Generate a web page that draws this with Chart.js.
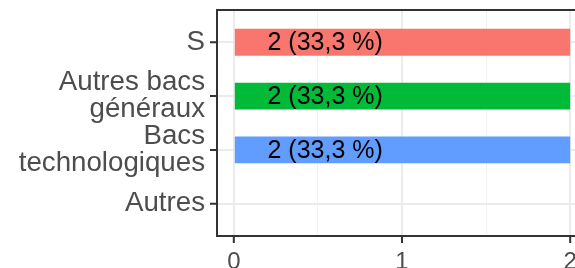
<!DOCTYPE html>
<html>
<head>
<meta charset="utf-8">
<script src="https://cdn.jsdelivr.net/npm/chart.js@4"></script>
<style>
  html, body { margin: 0; padding: 0; background: #fff; overflow: hidden; }
  #wrap { width: 600px; height: 268px; }
</style>
</head>
<body>
<div id="wrap"><canvas id="bacChart"></canvas></div>
<script>
// data
const categories = [['S'], ['Autres bacs', 'généraux'], ['Bacs', 'technologiques'], ['Autres']];
const counts = [2, 2, 2, 0];
const barColors = ['#F8766D', '#00BA38', '#619CFF', '#C77CFF'];
const xTicks = [0, 1, 2];
const xMinorTicks = [0.5, 1.5];

const total = counts.reduce((a, b) => a + b, 0);
const FONT = '"Liberation Sans", Arial, sans-serif';
const TICK_LEN = 7;

function isMajor(v) {
  return xTicks.indexOf(v) !== -1;
}

// panel border + axis tick marks, drawn on top
const panelBorder = {
  id: 'panelBorder',
  afterDatasetsDraw(chart) {
    const a = chart.chartArea;
    const c = chart.ctx;
    const xs = chart.scales.x, ys = chart.scales.y;
    c.save();
    c.strokeStyle = '#333333';
    c.lineWidth = 2;
    c.strokeRect(a.left, a.top, a.right - a.left, a.bottom - a.top);
    c.beginPath();
    categories.forEach((cat, i) => {
      const y = ys.getPixelForValue(i);
      c.moveTo(a.left - TICK_LEN, y);
      c.lineTo(a.left, y);
    });
    xTicks.forEach(v => {
      const x = xs.getPixelForValue(v);
      c.moveTo(x, a.bottom);
      c.lineTo(x, a.bottom + TICK_LEN);
    });
    c.stroke();
    c.restore();
  }
};

// "2 (33,3 %)" labels inside bars
const barLabels = {
  id: 'barLabels',
  afterDatasetsDraw(chart) {
    const c = chart.ctx;
    const xs = chart.scales.x, ys = chart.scales.y;
    c.save();
    c.font = '25px ' + FONT;
    c.fillStyle = '#000000';
    c.textAlign = 'left';
    c.textBaseline = 'middle';
    counts.forEach((v, i) => {
      if (v <= 0) return;
      const pct = (v / total * 100).toFixed(1).replace('.', ',');
      c.fillText(v + ' (' + pct + ' %)', xs.getPixelForValue(0.2), ys.getPixelForValue(i) + 1);
    });
    c.restore();
  }
};

const ctx = document.getElementById('bacChart').getContext('2d');
new Chart(ctx, {
  type: 'bar',
  data: {
    datasets: [{
      data: counts.map((v, i) => ({ x: v, y: i })),
      backgroundColor: barColors,
      borderWidth: 0,
      barPercentage: 0.5,
      categoryPercentage: 1.0
    }]
  },
  options: {
    indexAxis: 'y',
    responsive: true,
    maintainAspectRatio: false,
    animation: false,
    layout: { padding: { top: 10, right: 13, left: 0, bottom: 0 } },
    plugins: {
      legend: { display: false },
      tooltip: { enabled: false }
    },
    scales: {
      x: {
        type: 'linear',
        bounds: 'data',
        min: -0.1,
        max: 2.1,
        afterBuildTicks: s => {
          s.ticks = xTicks.concat(xMinorTicks).sort().map(v => ({ value: v }));
        },
        afterFit: s => {
          s.height = 32;
          s.paddingLeft = 0;
          s.paddingRight = 0;
        },
        border: { display: false },
        grid: {
          color: c => isMajor(c.tick.value) ? '#EBEBEB' : '#F2F2F2',
          lineWidth: c => isMajor(c.tick.value) ? 2 : 1,
          tickColor: 'rgba(0,0,0,0)',
          tickLength: TICK_LEN
        },
        ticks: {
          autoSkip: false,
          maxRotation: 0,
          color: '#4D4D4D',
          font: { family: FONT, size: 24 },
          padding: 5,
          callback: v => isMajor(v) ? String(v) : ''
        }
      },
      y: {
        type: 'linear',
        bounds: 'data',
        offset: false,
        min: -0.6,
        max: 3.6,
        reverse: true,
        afterBuildTicks: s => {
          s.ticks = categories.map((c, i) => ({ value: i }));
        },
        afterFit: s => {
          s.width = 217;
          s.paddingTop = 0;
          s.paddingBottom = 0;
        },
        border: { display: false },
        grid: {
          offset: false,
          color: '#EBEBEB',
          lineWidth: 2,
          tickColor: 'rgba(0,0,0,0)',
          tickLength: TICK_LEN
        },
        ticks: {
          autoSkip: false,
          color: '#4D4D4D',
          font: { family: FONT, size: 27.7, lineHeight: 0.98 },
          padding: 5,
          callback: (v, i) => categories[i]
        }
      }
    }
  },
  plugins: [panelBorder, barLabels]
});
</script>
</body>
</html>
